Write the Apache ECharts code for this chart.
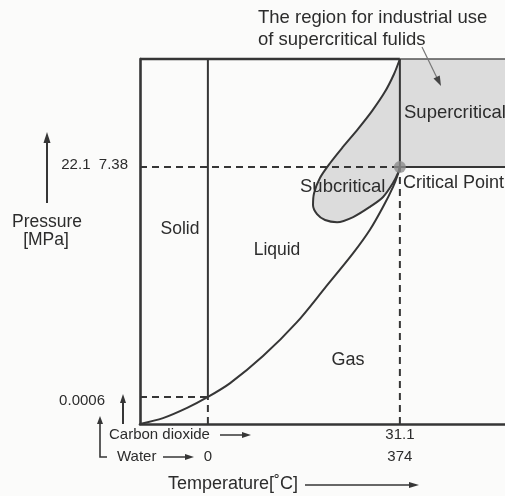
<!DOCTYPE html>
<html>
<head>
<meta charset="utf-8">
<script src="https://cdn.jsdelivr.net/npm/echarts@6/dist/echarts.min.js"></script>
<style>
  html, body { margin: 0; padding: 0; background: #fbfbfa; }
  #chart { width: 505px; height: 496px; }
</style>
</head>
<body>
<div id="chart"></div>
<script>
// Schematic phase diagram, both axes in normalised units (0–100).
const triplePoint = [18.6, 7.4];
const criticalPoint = [71.2, 70.4];

// Liquid–gas boundary, from the origin through the triple point to the critical point
const vaporCurve = [
  [0, 0], [6.3, 1.6], [12.9, 4.4], [18.6, 7.4], [24.7, 11.2], [33.7, 18.6],
  [43.0, 27.9], [50.7, 37.3], [58.4, 46.8], [63.0, 53.2], [66.6, 59.5],
  [69.3, 64.9], [70.7, 68.5], [71.2, 70.4]
];

// Subcritical lobe outline, from the top of the critical isotherm round to the critical point
const subcriticalLobe = [
  [71.2, 100], [69.6, 95.9], [67.1, 91.0], [63.6, 85.8], [59.7, 80.8], [55.6, 75.9],
  [52.1, 71.5], [49.3, 67.4], [47.7, 63.3], [47.4, 60.0], [48.5, 57.5], [50.7, 55.9],
  [54.0, 55.3], [58.4, 56.7], [63.0, 59.5], [66.6, 62.2], [69.3, 66.0], [70.7, 68.8],
  [71.2, 70.4]
];

// Tick labels
const xMarks = [18.6, 71.2];
const co2Temps = ['', '31.1'];
const waterTemps = ['0', '374'];
const yMarks = [7.4, 70.4];
const pressureLabels = ['0.0006', '22.1  7.38'];

const INK = '#2c2c2c';
const LINE = '#363636';
const FILL = '#dcdcdc';
const FONT = '"Liberation Sans", Arial, Helvetica, sans-serif';
const DASH = [7, 5];

const nearest = (marks, v) => {
  let best = 0;
  marks.forEach((m, i) => { if (Math.abs(m - v) < Math.abs(marks[best] - v)) best = i; });
  return best;
};

const seg = (data, opt = {}) => ({
  type: 'line',
  data,
  symbol: 'none',
  smooth: opt.smooth || false,
  clip: false,
  silent: true,
  z: 3,
  lineStyle: { color: opt.color || LINE, width: opt.width || 2, type: opt.dash || 'solid' }
});

// Annotation helpers (pixel layout)
function text(str, x, y, opt = {}) {
  const align = opt.align || 'left';
  return {
    type: 'text', x, y, z: 20, silent: true,
    style: {
      text: str, fill: opt.color || INK,
      fontSize: opt.size || 17.5, fontFamily: FONT,
      align, textAlign: align, verticalAlign: 'middle', textVerticalAlign: 'middle'
    }
  };
}

function arrow(pts, opt = {}) {
  const color = opt.color || LINE;
  const head = opt.head || 9;
  const spread = opt.spread || 7;
  const n = pts.length;
  const [x1, y1] = pts[n - 2];
  const [x2, y2] = pts[n - 1];
  const len = Math.hypot(x2 - x1, y2 - y1);
  const ux = (x2 - x1) / len, uy = (y2 - y1) / len;
  const bx = x2 - ux * head, by = y2 - uy * head;
  const px = -uy * spread / 2, py = ux * spread / 2;
  const shaft = pts.slice(0, n - 1).concat([[bx + ux, by + uy]]);
  return [
    { type: 'polyline', z: 20, silent: true, shape: { points: shaft },
      style: { stroke: opt.lineColor || color, lineWidth: opt.width || 1.6, fill: null } },
    { type: 'polygon', z: 20, silent: true,
      shape: { points: [[x2, y2], [bx + px, by + py], [bx - px, by - py]] },
      style: { fill: color } }
  ];
}

const chart = echarts.init(document.getElementById('chart'), null, { renderer: 'canvas' });

chart.setOption({
  backgroundColor: '#fbfbfa',
  animation: false,
  grid: { left: 140, top: 59, right: 0, bottom: 72 },
  xAxis: {
    type: 'value', min: 0, max: 100,
    axisLine: { show: true, lineStyle: { color: LINE, width: 2.6 } },
    axisTick: { show: false },
    splitLine: { show: false },
    axisLabel: {
      show: true,
      customValues: xMarks,
      formatter: v => {
        const i = nearest(xMarks, v);
        return (co2Temps[i] || ' ') + '\n' + waterTemps[i];
      },
      color: INK, fontSize: 15, fontFamily: FONT, lineHeight: 22, margin: 0
    }
  },
  yAxis: {
    type: 'value', min: 0, max: 100,
    axisLine: { show: true, lineStyle: { color: LINE, width: 2.6 } },
    axisTick: { show: false },
    splitLine: { show: false },
    axisLabel: {
      show: true,
      customValues: yMarks,
      formatter: v => {
        const i = nearest(yMarks, v);
        return (i === 0 ? '{lo|' : '{hi|') + pressureLabels[i] + '}';
      },
      margin: 12,
      rich: {
        lo: { color: INK, fontSize: 15, fontFamily: FONT, padding: [8, 23, 0, 0] },
        hi: { color: INK, fontSize: 15, fontFamily: FONT, padding: [0, 0, 4, 0] }
      }
    }
  },
  series: [
    // Supercritical region
    {
      type: 'custom', silent: true, clip: false, z: 1, data: [0],
      renderItem: (params, api) => {
        const a = api.coord([criticalPoint[0], 100]);
        const b = api.coord([100, criticalPoint[1]]);
        return { type: 'rect', shape: { x: a[0], y: a[1], width: b[0] - a[0], height: b[1] - a[1] },
                 style: { fill: FILL } };
      }
    },
    // Subcritical region
    {
      type: 'custom', silent: true, clip: false, z: 1, data: [0],
      renderItem: (params, api) => ({
        type: 'polygon',
        shape: { points: subcriticalLobe.map(p => api.coord(p)), smooth: 0.3 },
        style: { fill: FILL }
      })
    },
    // Plot frame top edge
    seg([[0, 100], [criticalPoint[0], 100]], { width: 2.4 }),
    seg([[criticalPoint[0], 100], [100, 100]], { width: 1.5, color: '#555' }),
    // Solid–liquid boundary
    seg([triplePoint, [triplePoint[0], 100]]),
    seg([[triplePoint[0], 0], triplePoint], { dash: DASH }),
    seg([[0, triplePoint[1]], triplePoint], { dash: DASH }),
    // Critical isotherm / isobar
    seg([[0, criticalPoint[1]], criticalPoint], { dash: DASH }),
    seg([[criticalPoint[0], 0], criticalPoint], { dash: DASH }),
    seg([criticalPoint, [criticalPoint[0], 100]]),
    seg([criticalPoint, [100, criticalPoint[1]]]),
    // Vapour-pressure curve
    seg(vaporCurve, { smooth: 0.3 }),
    // Subcritical lobe outline
    seg(subcriticalLobe, { smooth: 0.3 }),
    // Critical point
    {
      type: 'scatter', data: [criticalPoint], symbolSize: 12, silent: true, clip: false, z: 5,
      itemStyle: { color: '#8c8c8c' }
    }
  ],
  graphic: [].concat(
    text('The region for industrial use', 258, 18, { size: 18.5 }),
    text('of supercritical fulids', 258, 40, { size: 18.5 }),
    arrow([[422, 47], [441, 86]], { color: '#444', lineColor: '#777', width: 1.2, head: 10, spread: 7 }),
    text('Supercritical', 404, 113, { size: 18.5 }),
    text('Critical Point', 403, 183, { size: 18 }),
    text('Subcritical', 300, 187, { size: 18.5 }),
    text('Solid', 180, 229, { align: 'center' }),
    text('Liquid', 277, 250, { align: 'center' }),
    text('Gas', 348, 360, { align: 'center', size: 18 }),
    text('Pressure', 47, 222, { align: 'center' }),
    text('[MPa]', 46, 240, { align: 'center' }),
    arrow([[47, 203], [47, 132]], { width: 2, head: 11, spread: 7 }),
    arrow([[123, 424], [123, 394]], { width: 2, head: 9, spread: 6 }),
    arrow([[107, 457], [100, 457], [100, 416]], { width: 1.6, head: 8, spread: 6 }),
    text('Carbon dioxide', 109, 435, { size: 15 }),
    arrow([[220, 435], [251, 435]], { width: 1.5, head: 9, spread: 6 }),
    text('Water', 117, 457, { size: 15 }),
    arrow([[163, 457], [194, 457]], { width: 1.5, head: 9, spread: 6 }),
    text('Temperature[˚C]', 168, 484, { size: 18 }),
    arrow([[305, 485], [419, 485]], { width: 1.5, head: 10, spread: 6 })
  )
});
</script>
</body>
</html>
